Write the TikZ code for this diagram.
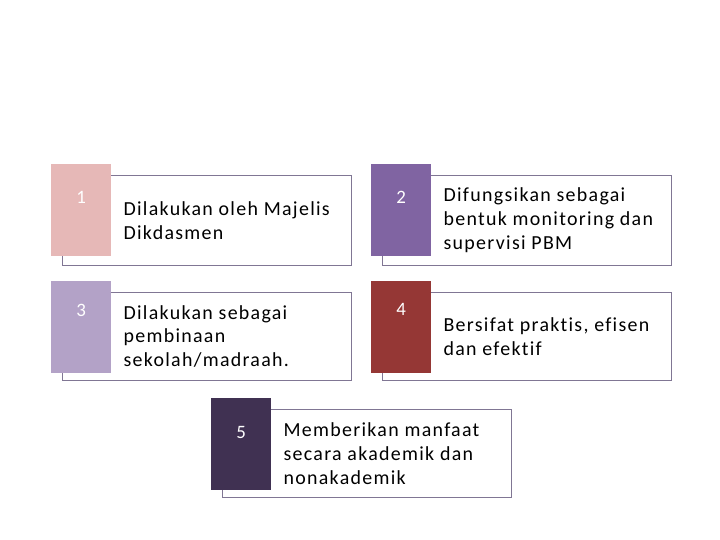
\documentclass[tikz,border=0pt]{standalone}
\usepackage{fontspec}
\setmainfont{Carlito}[LetterSpace=6.5, Ligatures=NoCommon]
\usetikzlibrary{positioning}

\definecolor{rose}{RGB}{230,184,183}
\definecolor{violetmid}{RGB}{128,100,162}
\definecolor{lilac}{RGB}{179,162,199}
\definecolor{brick}{RGB}{149,55,53}
\definecolor{plum}{RGB}{64,49,82}
\definecolor{framegray}{RGB}{128,118,148}

\begin{document}
\begin{tikzpicture}[x=1bp, y=-1bp,
    itemframe/.style={draw=framegray, line width=1bp, minimum width=289bp, minimum height=90bp, inner sep=0pt, anchor=north west},
    numsq/.style={minimum width=60bp, minimum height=92bp, inner sep=0pt, anchor=north west},
    numtxt/.style={text=white, font=\fontsize{19}{22}\selectfont, inner sep=0pt},
    itemtxt/.style={anchor=west, align=left, inner sep=0pt, xshift=12bp, font=\fontsize{20}{24}\selectfont}]

    \useasboundingbox (0,0) rectangle (720,540);

    % frames first, the coloured squares cover their left part
    \node[itemframe] (b1) at (62,175) {};
    \node[itemframe] (b2) at (382,175) {};
    \node[itemframe, minimum height=88bp] (b3) at (62,292) {};
    \node[itemframe, minimum height=88bp] (b4) at (382,292) {};
    \node[itemframe, minimum height=88bp] (b5) at (222,409) {};

    % coloured squares
    \node[numsq, fill=rose] (s1) at ([xshift=-11bp, yshift=11bp]b1.north west) {};
    \node[numsq, fill=violetmid] (s2) at ([xshift=-11bp, yshift=11bp]b2.north west) {};
    \node[numsq, fill=lilac] (s3) at ([xshift=-11bp, yshift=11bp]b3.north west) {};
    \node[numsq, fill=brick] (s4) at ([xshift=-11bp, yshift=11bp]b4.north west) {};
    \node[numsq, fill=plum] (s5) at ([xshift=-11bp, yshift=11bp]b5.north west) {};

    % numbers
    \node[numtxt, below=27bp of s1.north] (n1) {1};
    \node[numtxt, below=27bp of s2.north] (n2) {2};
    \node[numtxt, below=23bp of s3.north] (n3) {3};
    \node[numtxt, below=22bp of s4.north] (n4) {4};
    \node[numtxt, below=28bp of s5.north] (n5) {5};

    % item texts
    \node[itemtxt] (t1) at (s1.east |- b1.center) {Dilakukan oleh Majelis\\Dikdasmen};
    \node[itemtxt] (t2) at (s2.east |- b2.center) {Difungsikan sebagai\\bentuk monitoring dan\\supervisi PBM};
    \node[itemtxt] (t3) at (s3.east |- b3.center) {Dilakukan sebagai\\pembinaan\\sekolah/madraah.};
    \node[itemtxt] (t4) at (s4.east |- b4.center) {Bersifat praktis, efisen\\dan efektif};
    \node[itemtxt] (t5) at (s5.east |- b5.center) {Memberikan manfaat\\secara akademik dan\\nonakademik};
\end{tikzpicture}
\end{document}
